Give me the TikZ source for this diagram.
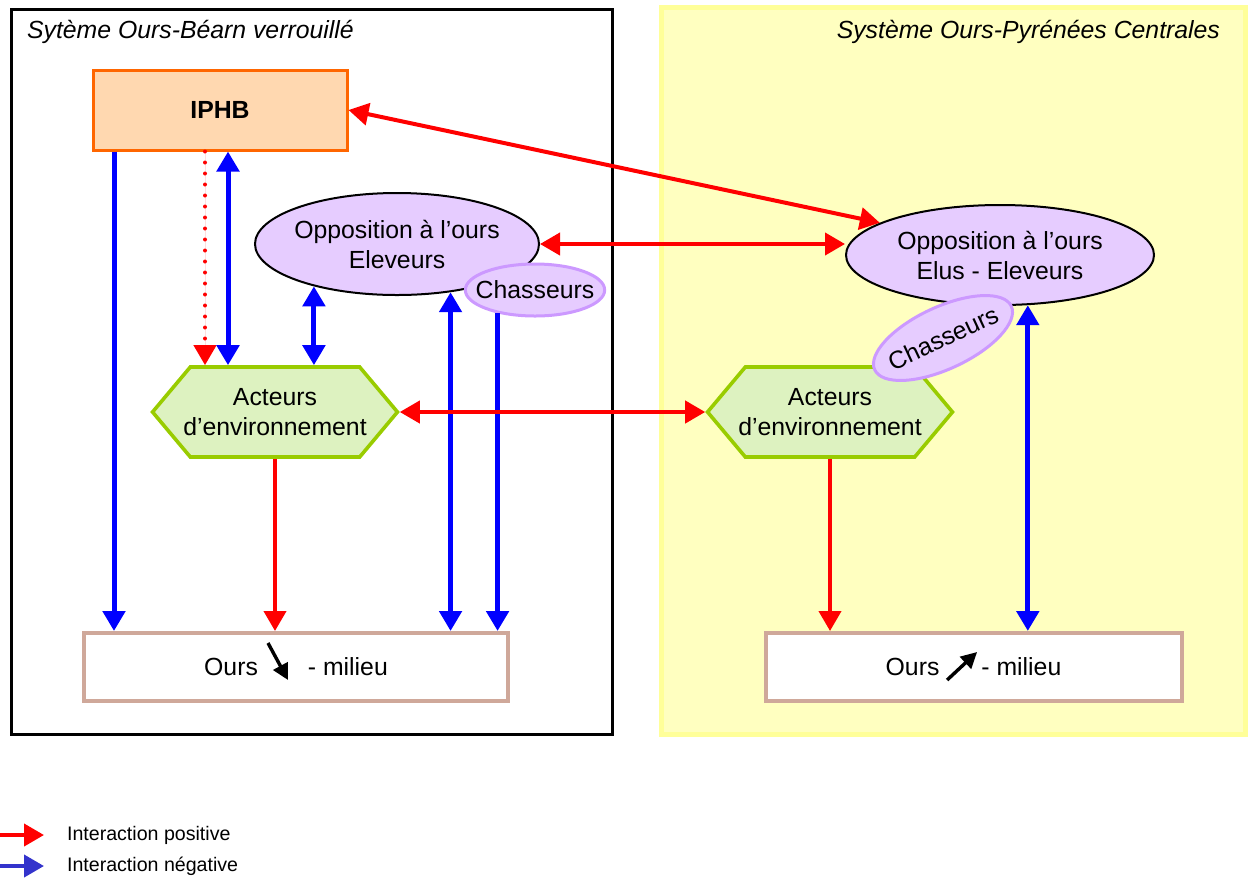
\documentclass[tikz,border=0pt]{standalone}
\usepackage{fontspec}
\setmainfont{Liberation Sans}
\usetikzlibrary{arrows.meta,positioning,calc,shapes.geometric,shapes.symbols}
\definecolor{ored}{HTML}{FF0000}
\definecolor{oblue}{HTML}{0000FF}
\definecolor{lblue}{HTML}{3333CC}
\definecolor{iorange}{HTML}{FF6600}
\definecolor{ipeach}{HTML}{FFD8B0}
\definecolor{olav}{HTML}{E6CCFF}
\definecolor{olavd}{HTML}{CC99FF}
\definecolor{agreen}{HTML}{DDF2C0}
\definecolor{agreend}{HTML}{99CC00}
\definecolor{otan}{HTML}{CFA89A}
\definecolor{yfill}{HTML}{FFFFC0}
\definecolor{yedge}{HTML}{FFFF99}
\tikzset{
  txt/.style={font=\fontsize{12.4}{15}\selectfont,align=center},
  iphbbox/.style={txt,draw=iorange,fill=ipeach,line width=1.5pt,minimum width=127pt,minimum height=40pt,font=\fontsize{12.4}{15}\selectfont\bfseries},
  opp/.style={txt,ellipse,draw=black,fill=olav,line width=1pt,inner sep=0pt},
  chas/.style={txt,ellipse,draw=olavd,fill=olav,line width=1.5pt,inner ysep=0pt},
  acteur/.style={txt,signal,signal to=west and east,signal pointer angle=100,draw=agreend,fill=agreen,line width=1.8pt,minimum height=45pt,inner ysep=0pt,inner xsep=-3.5pt},
  ours/.style={txt,draw=otan,fill=white,line width=2pt,minimum height=34pt},
  parr/.style={{Triangle[length=10pt,width=11pt]}-{Triangle[length=10pt,width=11pt]},line width=2pt,draw=ored,fill=ored},
  sparr/.style={-{Triangle[length=10pt,width=11pt]},line width=2pt,draw=ored,fill=ored},
  narr/.style={{Triangle[length=10pt,width=11pt]}-{Triangle[length=10pt,width=11pt]},line width=2.5pt,draw=oblue,fill=oblue},
  snarr/.style={-{Triangle[length=10pt,width=11pt]},line width=2.5pt,draw=oblue,fill=oblue},
  trend/.style={-{Triangle[length=8pt,width=8pt]},line width=1.7pt,draw=black,fill=black},
  lbl/.style={font=\fontsize{9.8}{12}\selectfont,anchor=west},
}
\begin{document}
\begin{tikzpicture}[x=0.5pt,y=-0.5pt]
  \useasboundingbox (0,0) rectangle (1251,879);
  % cadres
  \draw[black,line width=1.5pt] (11,9) rectangle (612,734);
  \node[txt,font=\fontsize{12.4}{15}\selectfont\itshape,anchor=west] (tg) at (20,32) {Sytème Ours-Béarn verrouillé};
  \draw[yedge,fill=yfill,line width=2.5pt] (661,7) rectangle (1245,734);
  \node[txt,font=\fontsize{12.4}{15}\selectfont\itshape,anchor=east] (td) at (1227,32) {Système Ours-Pyrénées Centrales};
  % noeuds
  \node[iphbbox] (iphb) at (220,110) {IPHB};
  \node[opp,inner xsep=-2pt,minimum width=142pt,minimum height=51pt] (ell1) at (397,244) {Opposition à l’ours\\Eleveurs};
  \node[chas,inner xsep=-5pt,minimum width=66pt,minimum height=26pt] (ch1) at (535,290) {Chasseurs};
  \node[opp,minimum width=154pt,minimum height=50pt] (ell2) at (1000,255) {Opposition à l’ours\\Elus - Eleveurs};
  \node[acteur] (hex1) at (275,412) {Acteurs\\d’environnement};
  \node[acteur] (hex2) at (830,412) {Acteurs\\d’environnement};
  \node[chas,inner xsep=-3pt,rotate=25,minimum width=75pt,minimum height=31pt] (ch2) at (943,338) {Chasseurs};
  \node[ours,minimum width=212pt] (ours1) at (296,667) {Ours\hspace{25pt}- milieu};
  \node[ours,minimum width=208pt] (ours2) at (973.5,667) {Ours\hspace{21pt}- milieu};
  \draw[trend] ([shift={(-14pt,12pt)}]ours1.center) -- ([shift={(-4pt,-6.5pt)}]ours1.center);
  \draw[trend] ([shift={(-13.2pt,-6.5pt)}]ours2.center) -- ([shift={(1.8pt,7.5pt)}]ours2.center);
  % colonnes
  \coordinate (c1) at (114,0);
  \coordinate (c2) at (205,0);
  \coordinate (c3) at (228,0);
  % fleches
  \draw[snarr] (iphb.south -| c1) -- (ours1.north -| c1);
  \draw[sparr,line cap=round,dash pattern=on 0pt off 5.5pt] (iphb.south -| c2) -- (hex1.north -| c2);
  \draw[narr] (iphb.south -| c3) -- (hex1.north -| c3);
  \draw[narr] (ell1.207) -- (ell1.207 |- hex1.north);
  \draw[narr] (ell1.318) -- (ell1.318 |- ours1.north);
  \draw[snarr] (ch1.212) -- (ch1.212 |- ours1.north);
  \draw[sparr] (hex1.south) -- (hex1.south |- ours1.north);
  \draw[sparr] (hex2.south) -- (hex2.south |- ours2.north);
  \draw[narr] (ell2.299) -- (ell2.299 |- ours2.north);
  \draw[parr] (iphb.east) -- (ell2.165);
  \draw[parr] (ell1.east) -- (ell1.east -| ell2.west);
  \draw[parr] (hex1.east) -- (hex2.west);
  % legende
  \node[lbl] (lg1) at (60,835) {Interaction positive};
  \node[lbl] (lg2) at (60,866) {Interaction négative};
  \coordinate (la1) at (0,835);
  \coordinate (la2) at (0,866);
  \draw[-{Triangle[length=10pt,width=11pt]},line width=2pt,draw=ored,fill=ored] (la1) -- ([xshift=-8pt]lg1.west);
  \draw[-{Triangle[length=10pt,width=11pt]},line width=2pt,draw=lblue,fill=lblue] (la2) -- ([xshift=-8pt]lg2.west);
\end{tikzpicture}
\end{document}
